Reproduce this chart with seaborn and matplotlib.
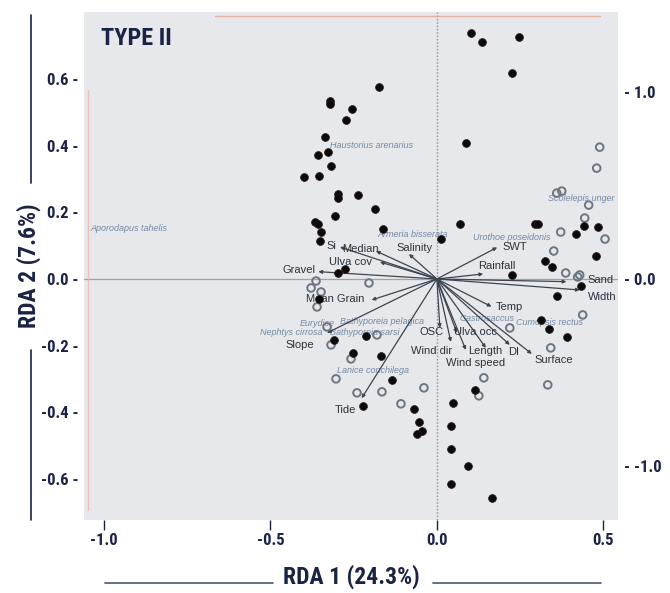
import matplotlib
matplotlib.use("Agg")
import matplotlib.pyplot as plt
import seaborn as sns
import pandas as pd
from matplotlib.lines import Line2D
from matplotlib import font_manager as fm

# ---------------- data (RDA scores) ----------------
filled_x = [-0.174, -0.321, -0.321, -0.255, -0.273, -0.336, -0.327, -0.357, -0.318, -0.399,
            -0.354, -0.297, -0.297, -0.237, -0.186, -0.306, -0.366, -0.357, -0.348, -0.351,
            -0.162, 0.012, 0.069, 0.087, 0.102, 0.135, 0.246, 0.225, -0.297, -0.276,
            -0.354, -0.213, -0.309, -0.252, -0.168, -0.135, -0.222, -0.069, -0.054, -0.045,
            -0.060, 0.048, 0.042, 0.042, 0.093, 0.042, 0.165, 0.114, 0.294, 0.303,
            0.417, 0.441, 0.483, 0.477, 0.324, 0.345, 0.225, 0.432, 0.360, 0.312,
            0.336, 0.390]
filled_y = [0.577, 0.535, 0.526, 0.511, 0.477, 0.426, 0.381, 0.372, 0.339, 0.306,
            0.309, 0.255, 0.243, 0.252, 0.210, 0.189, 0.171, 0.165, 0.141, 0.114,
            0.150, 0.120, 0.165, 0.408, 0.739, 0.712, 0.727, 0.619, 0.018, 0.030,
            -0.060, -0.171, -0.183, -0.222, -0.231, -0.303, -0.381, -0.390, -0.429, -0.456,
            -0.465, -0.372, -0.441, -0.511, -0.562, -0.616, -0.658, -0.333, 0.165, 0.165,
            0.135, 0.159, 0.156, 0.069, 0.054, 0.036, 0.012, -0.021, -0.051, -0.123,
            -0.150, -0.174]
open_x = [0.489, 0.480, 0.360, 0.375, 0.456, 0.444, 0.505, 0.372, 0.351, 0.387,
          0.423, 0.429, 0.438, 0.342, 0.219, 0.333, 0.141, 0.126, -0.039, -0.108,
          -0.165, -0.240, -0.303, -0.258, -0.318, -0.330, -0.180, -0.360, -0.348, -0.378,
          -0.363, -0.204]
open_y = [0.396, 0.333, 0.258, 0.264, 0.222, 0.183, 0.120, 0.141, 0.084, 0.018,
          0.006, 0.012, -0.108, -0.207, -0.147, -0.318, -0.297, -0.351, -0.327, -0.375,
          -0.339, -0.342, -0.300, -0.240, -0.198, -0.144, -0.168, -0.084, -0.039, -0.027,
          -0.006, -0.012]

env_names = ["Gravel", "Si", "Median", "Ulva cov", "Salinity", "Mean Grain", "Slope", "Tide",
             "SWT", "Rainfall", "Sand", "Width", "Temp", "Surface", "DI", "Length",
             "Wind speed", "Wind dir", "OSC", "Ulva occ"]
env_x = [-0.356, -0.291, -0.183, -0.171, -0.084, -0.196, -0.330, -0.226,
         0.181, 0.139, 0.389, 0.429, 0.164, 0.285, 0.219, 0.147,
         0.087, 0.042, 0.009, 0.060]
env_y = [0.022, 0.096, 0.084, 0.051, 0.075, -0.063, -0.162, -0.358,
         0.095, 0.015, -0.008, -0.033, -0.083, -0.225, -0.198, -0.207,
         -0.213, -0.189, -0.147, -0.162]

species_names = ["Aporodapus tahelis", "Haustorius arenarius", "Armeria bisserata",
                 "Urothoe poseidonis", "Scolelepis unger", "Cumopsis rectus",
                 "Lanice conchilega", "Nephtys cirrosa", "Eurydice",
                 "Bathyporeia pelagica", "Bathyporeia sarsi", "Gastrosaccus"]
species_x = [-1.042, -0.321, -0.180, 0.108, 0.333, 0.237, -0.300, -0.530, -0.411,
             -0.291, -0.322, 0.069]
species_y = [0.153, 0.402, 0.135, 0.126, 0.243, -0.132, -0.276, -0.162, -0.135,
             -0.129, -0.162, -0.120]

x_ticks = [-1.0, -0.5, 0.0, 0.5]
y_ticks = [-0.6, -0.4, -0.2, 0.0, 0.2, 0.4, 0.6]
right_ticks = [-1.0, 0.0, 1.0]
title_text = "TYPE II"
x_label = "RDA 1 (24.3%)"
y_label = "RDA 2 (7.6%)"

# ---------------- layout / style ----------------
env_label_style = {
    "Gravel": (-3, 2, "right"), "Si": (-9, 1, "center"), "Median": (-16, 2, "center"),
    "Ulva cov": (-29, 0, "center"), "Salinity": (6, 6, "center"),
    "Mean Grain": (-7, 1, "right"), "Slope": (-27, -12, "center"), "Tide": (-16, -12, "center"),
    "SWT": (5, 0, "left"), "Rainfall": (14, 8, "center"), "Sand": (21, 2, "left"),
    "Width": (8, -7, "left"), "Temp": (4, 0, "left"), "Surface": (22, -6, "center"),
    "DI": (4, -7, "center"), "Length": (-1, -3, "center"), "Wind speed": (10, -13, "center"),
    "Wind dir": (-19, -9, "center"), "OSC": (-8, -4, "center"), "Ulva occ": (19, 1, "center"),
}

sns.set_theme(style="white")
plt.rcParams["font.family"] = ["Liberation Sans", "DejaVu Sans"]
NAVY = "#1b2345"


def condensed_bold():
    """Find a condensed / narrow bold face if one is installed."""
    prefs = ["LiberationSansNarrow-Bold.", "RobotoCondensed-Bold.", "NotoSans-CondensedBold.",
             "OpenSans-CondensedBold.", "OpenSans_Condensed-Bold."]
    files = [f.fname for f in fm.fontManager.ttflist]
    for p in prefs:
        for f in files:
            if p.lower() in f.lower().replace("\\", "/").split("/")[-1]:
                return f, True
    return None, False


cond_file, has_cond = condensed_bold()


def bold_fp(size):
    if has_cond:
        return fm.FontProperties(fname=cond_file, size=size)
    return fm.FontProperties(family=["Liberation Sans", "DejaVu Sans"], weight="bold", size=size)


W, H = 670, 593
fig = plt.figure(figsize=(W / 100, H / 100), dpi=100)
ax_l, ax_r, ax_t, ax_b = 84, 618, 12, 520
ax = fig.add_axes([ax_l / W, 1 - ax_b / H, (ax_r - ax_l) / W, (ax_b - ax_t) / H])
ax.set_facecolor("#e7e8eb")
for s in ax.spines.values():
    s.set_visible(False)

ax.set_xlim(-1.06, 0.544)
ax.set_ylim(-0.724, 0.802)

# scan artefacts: faint edge lines
ax.plot([0.245, 0.966], [0.992, 0.992], transform=ax.transAxes, color="#e2a893", lw=1.0, alpha=0.8)
ax.plot([0.0075, 0.0075], [0.02, 0.846], transform=ax.transAxes, color="#e6b3a3", lw=1.0, alpha=0.7)

# zero lines
ax.axhline(0, color="#9ba4ae", lw=0.9, zorder=1)
ax.axvline(0, color="#8b9db2", lw=1.0, ls=(0, (1.2, 1.2)), zorder=1)

# arrows
for name, ex, ey in zip(env_names, env_x, env_y):
    ax.annotate("", xy=(ex, ey), xytext=(0, 0),
                arrowprops=dict(arrowstyle="-|>", color="#3b4550", lw=0.9,
                                mutation_scale=5, shrinkA=0, shrinkB=0), zorder=3)
    dx, dy, ha = env_label_style[name]
    ax.annotate(name, xy=(ex, ey), xytext=(dx, dy), textcoords="offset pixels",
                ha=ha, va="center", fontsize=8, color="#2a323c", zorder=4)

# species labels
for name, sx, sy in zip(species_names, species_x, species_y):
    ax.text(sx, sy, name, fontsize=6.5, style="italic", color="#7489a2",
            ha="left", va="center", zorder=2, clip_on=True)

# sites
df_f = pd.DataFrame({"x": filled_x, "y": filled_y})
df_o = pd.DataFrame({"x": open_x, "y": open_y})
sns.scatterplot(data=df_o, x="x", y="y", ax=ax, marker="o", s=30,
                facecolor="none", edgecolor="#6c7682", linewidth=1.4, zorder=5)
sns.scatterplot(data=df_f, x="x", y="y", ax=ax, marker="o", s=32,
                color="#0b0b0d", edgecolor="#2a1a18", linewidth=0.5, zorder=6)

ax.set_xlabel("")
ax.set_ylabel("")

# ticks
tick_size = 12 if has_cond else 11.5
ax.set_xticks(x_ticks)
ax.set_xticklabels([f"{v:.1f}" for v in x_ticks])
ax.set_yticks(y_ticks)
ax.set_yticklabels([f"{v:.1f} -" for v in y_ticks])
ax.tick_params(axis="x", direction="out", length=7.5, width=1.0, color=NAVY, pad=2,
               labelcolor=NAVY, bottom=True)
ax.tick_params(axis="y", length=0, pad=4, labelcolor=NAVY, left=True)
for lab in ax.get_xticklabels() + ax.get_yticklabels():
    lab.set_fontproperties(bold_fp(tick_size))

scale = 0.563
sec = ax.secondary_yaxis("right", functions=(lambda y: y / scale, lambda y: y * scale))
sec.set_yticks(right_ticks)
sec.set_yticklabels([f"- {v:.1f}" for v in right_ticks])
sec.tick_params(length=0, pad=4, labelcolor=NAVY)
for lab in sec.get_yticklabels():
    lab.set_fontproperties(bold_fp(tick_size))
for s in sec.spines.values():
    s.set_visible(False)

# title
fig.text(101 / W, 1 - 38.5 / H, title_text, ha="left", va="center", color=NAVY,
         fontproperties=bold_fp(17.5 if has_cond else 16))

# axis titles with side rules
lab_size = 17 if has_cond else 16
cx = (ax_l + ax_r) / 2 / W
fig.text(cx, 1 - 577 / H, x_label, ha="center", va="center", color=NAVY,
         fontproperties=bold_fp(lab_size))
fig.add_artist(Line2D([105 / W, 273 / W], [1 - 583 / H] * 2, color="#4c5670", lw=1.2))
fig.add_artist(Line2D([433 / W, 601 / W], [1 - 583 / H] * 2, color="#4c5670", lw=1.2))

cy = 1 - (ax_t + ax_b) / 2 / H
fig.text(29 / W, cy, y_label, ha="center", va="center", rotation=90, color=NAVY,
         fontproperties=bold_fp(lab_size))
fig.add_artist(Line2D([31 / W] * 2, [1 - 15 / H, 1 - 183 / H], color=NAVY, lw=1.2))
fig.add_artist(Line2D([31 / W] * 2, [1 - 350 / H, 1 - 520 / H], color=NAVY, lw=1.2))

fig.savefig("out.png", dpi=100, facecolor="white")
